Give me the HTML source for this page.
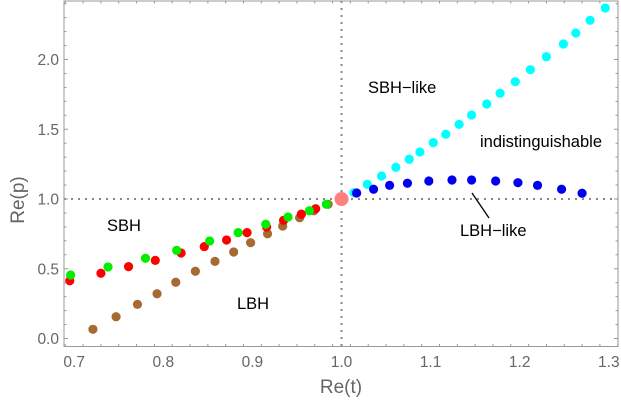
<!DOCTYPE html>
<html><head><meta charset="utf-8"><style>
html,body{margin:0;padding:0;background:#fff;}
svg{display:block;font-family:"Liberation Sans",sans-serif;}
</style></head><body>
<svg id="chart" width="621" height="404" viewBox="0 0 621 404" xmlns="http://www.w3.org/2000/svg">
<g id="grid"></g><g id="marks"></g><g id="axes"></g>
<text x="107" y="231" font-size="16.5">SBH</text>
<text x="237" y="309" font-size="16.5">LBH</text>
<text x="368" y="93" font-size="16.5">SBH−like</text>
<text x="480" y="147" font-size="16.5">indistinguishable</text>
<text x="460" y="236" font-size="16.5">LBH−like</text>
<line x1="472" y1="193" x2="489" y2="218" stroke="#000" stroke-width="1.3"/>
<text x="341" y="393" font-size="19" fill="#666" text-anchor="middle">Re(t)</text>
<text transform="translate(24,200) rotate(-90)" font-size="19" fill="#666" text-anchor="middle">Re(p)</text>
</svg>
<script>
const redX=[0.695,0.730,0.761,0.791,0.820,0.846,0.871,0.894,0.916,0.935,0.955,0.971];
const redY=[0.414,0.468,0.515,0.560,0.613,0.659,0.706,0.759,0.799,0.847,0.892,0.930];
const greenX=[0.696,0.738,0.780,0.815,0.852,0.884,0.915,0.940,0.964,0.983];
const greenY=[0.455,0.513,0.575,0.632,0.699,0.759,0.819,0.871,0.916,0.962];
const brownX=[0.721,0.747,0.771,0.793,0.814,0.836,0.858,0.879,0.898,0.917,0.934,0.953,0.969,0.985];
const brownY=[0.066,0.156,0.245,0.321,0.403,0.482,0.553,0.620,0.687,0.751,0.806,0.866,0.916,0.962];
const cyanX=[1.014,1.029,1.045,1.061,1.076,1.088,1.103,1.117,1.132,1.146,1.163,1.178,1.195,1.212,1.230,1.249,1.263,1.279,1.296];
const cyanY=[1.045,1.105,1.165,1.227,1.285,1.337,1.404,1.464,1.535,1.602,1.681,1.758,1.841,1.927,2.020,2.111,2.190,2.281,2.369];
const blueX=[1.017,1.036,1.054,1.074,1.098,1.124,1.146,1.173,1.198,1.220,1.247,1.270];
const blueY=[1.043,1.070,1.098,1.113,1.129,1.136,1.136,1.129,1.117,1.098,1.070,1.041];
const xTicks=["0.7","0.8","0.9","1.0","1.1","1.2","1.3"];
const yTicks=["0.0","0.5","1.0","1.5","2.0"];
const NS="http://www.w3.org/2000/svg";
const L=64,R=618,T=1,B=346.5;
function sx(v){return 341.5+(v-1)*891;}
function sy(v){return 338.5-v*139.5;}
function mk(tag,attrs,parent){const e=document.createElementNS(NS,tag);for(const k in attrs)e.setAttribute(k,attrs[k]);parent.appendChild(e);return e;}
const grid=document.getElementById('grid'),marks=document.getElementById('marks'),axes=document.getElementById('axes');
let g=mk('line',{x1:sx(1),x2:sx(1),y1:T,y2:B,stroke:'#888','stroke-width':2,'stroke-dasharray':'2,5'},grid);


g=mk('line',{x1:L,x2:R,y1:sy(1),y2:sy(1),stroke:'#888','stroke-width':2,'stroke-dasharray':'2,5'},grid);


function series(xs,ys,color,name){xs.forEach((x,i)=>{const c=mk('circle',{cx:sx(x),cy:sy(ys[i]),r:4.6,fill:color},marks);

});}
series(brownX,brownY,'#a66a33','brown');
series(redX,redY,'#ff0000','red');
series(greenX,greenY,'#00ee00','green');
series(cyanX,cyanY,'#00ffff','cyan');
series(blueX,blueY,'#0000ee','blue');
const cp=mk('circle',{cx:sx(1),cy:sy(1),r:7,fill:'#ff8080'},marks);


const fr=mk('rect',{x:L,y:T,width:R-L,height:B-T,fill:'none',stroke:'#999','stroke-width':1},axes);


for(let i=0;i<=31;i++){const v=0.69+i*0.02;const x=sx(v);if(x<L||x>R)continue;const major=Math.abs(((v*10)+1e-6)%1)<1e-3||Math.abs(((v*10)%1)-1)<1e-3;const len=major?4:2.5;
mk('line',{x1:x,x2:x,y1:B,y2:B-len,stroke:'#999'},axes);mk('line',{x1:x,x2:x,y1:T,y2:T+len,stroke:'#999'},axes);}
for(let i=0;i<=24;i++){const v=i*0.1;const y=sy(v);if(y<T)continue;const len=(i%5===0)?4:2.5;
mk('line',{x1:L,x2:L+len,y1:y,y2:y,stroke:'#999'},axes);mk('line',{x1:R,x2:R-len,y1:y,y2:y,stroke:'#999'},axes);}
xTicks.forEach(t=>{const e=mk('text',{x:sx(parseFloat(t)),y:367,'font-size':15.5,fill:'#666','text-anchor':'middle'},axes);e.textContent=t;

});
yTicks.forEach(t=>{const e=mk('text',{x:59,y:sy(parseFloat(t))+5.5,'font-size':15.5,fill:'#666','text-anchor':'end'},axes);e.textContent=t;

});
</script>
</body></html>
